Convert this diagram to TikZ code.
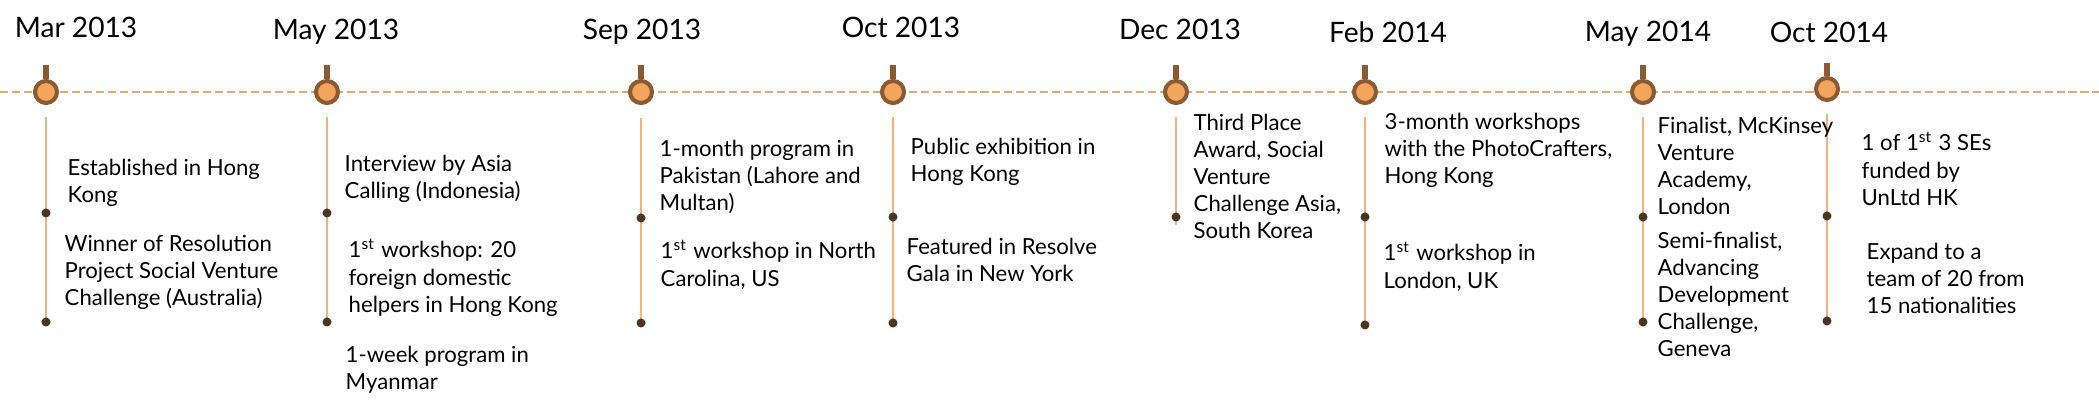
\documentclass[tikz,border=0pt]{standalone}
\usepackage{fontspec}
\setmainfont{Lato}
\usetikzlibrary{positioning}
\definecolor{DashOrange}{HTML}{E9A66E}
\definecolor{RingBrown}{HTML}{8B5A32}
\definecolor{MarkOrange}{HTML}{F3A65B}
\definecolor{LineOrange}{HTML}{F0B27F}
\definecolor{DotBrown}{HTML}{4B3621}

\begin{document}
\begin{tikzpicture}[x=0.01cm, y=-0.01cm,
    every node/.style={font=\fontsize{6.3}{7.7}\selectfont},
    date/.style={font=\fontsize{8}{9}\selectfont, anchor=base, inner sep=0},
    note/.style={anchor=north west, align=left, inner sep=0},
    marker/.style={circle, draw=RingBrown, fill=MarkOrange, line width=1.15pt, minimum size=0.22cm, inner sep=0},
    dot/.style={circle, fill=DotBrown, minimum size=0.09cm, inner sep=0},
    stemline/.style={RingBrown, line width=1.6pt},
    vline/.style={LineOrange, line width=0.7pt}]
  \useasboundingbox (0,0) rectangle (2099,401);
  % axis
  \coordinate (L) at (0,92);
  \coordinate (R) at (2099,92);
  \draw[DashOrange, line width=0.6pt, dash pattern=on 2.3pt off 1.1pt] (L) -- (R);

  % dates
  \node[date] (d1) at (76,38) {Mar 2013};
  \node[date] (d2) at (336,40) {May 2013};
  \node[date] (d3) at (642,40) {Sep 2013};
  \node[date] (d4) at (901,38) {Oct 2013};
  \node[date] (d5) at (1180,40) {Dec 2013};
  \node[date] (d6) at (1388,43) {Feb 2014};
  \node[date] (d7) at (1648,42) {May 2014};
  \node[date] (d8) at (1829,43) {Oct 2014};

  % stems and markers
  \coordinate (s1) at (46,65);
  \coordinate (s2) at (327,65);
  \coordinate (s3) at (641,65);
  \coordinate (s4) at (893,65);
  \coordinate (s5) at (1176,65);
  \coordinate (s6) at (1365,65);
  \coordinate (s7) at (1643,65);
  \coordinate (s8) at (1827,63);
  \node[marker] (m1) at (46,92) {};
  \node[marker] (m2) at (327,92) {};
  \node[marker] (m3) at (641,92) {};
  \node[marker] (m4) at (893,92) {};
  \node[marker] (m5) at (1176,92) {};
  \node[marker] (m6) at (1365,92) {};
  \node[marker] (m7) at (1643,92) {};
  \node[marker] (m8) at (1827,89) {};
  \draw[stemline] (s1) -- (m1.north);
  \draw[stemline] (s2) -- (m2.north);
  \draw[stemline] (s3) -- (m3.north);
  \draw[stemline] (s4) -- (m4.north);
  \draw[stemline] (s5) -- (m5.north);
  \draw[stemline] (s6) -- (m6.north);
  \draw[stemline] (s7) -- (m7.north);
  \draw[stemline] (s8) -- (m8.north);

  % event lines
  \coordinate (t1) at (46,117);
  \coordinate (t2) at (327,117);
  \coordinate (t3) at (641,118);
  \coordinate (t4) at (893,117);
  \coordinate (t5) at (1176,117);
  \coordinate (e5) at (1176,225);
  \coordinate (t6) at (1365,117);
  \coordinate (t7) at (1643,117);
  \coordinate (t8) at (1827,114);
  \draw[vline] (t1) -- (46,322);
  \draw[vline] (t2) -- (327,322);
  \draw[vline] (t3) -- (641,323);
  \draw[vline] (t4) -- (893,323);
  \draw[vline] (t5) -- (e5);
  \draw[vline] (t6) -- (1365,325);
  \draw[vline] (t7) -- (1643,322);
  \draw[vline] (t8) -- (1827,321);
  \node[dot] (a1) at (46,213) {};
  \node[dot] (b1) at (46,322) {};
  \node[dot] (a2) at (327,213) {};
  \node[dot] (b2) at (327,322) {};
  \node[dot] (a3) at (641,218) {};
  \node[dot] (b3) at (641,323) {};
  \node[dot] (a4) at (893,217) {};
  \node[dot] (b4) at (893,323) {};
  \node[dot] (a5) at (1176,217) {};
  \node[dot] (a6) at (1365,217) {};
  \node[dot] (b6) at (1365,325) {};
  \node[dot] (a7) at (1643,217) {};
  \node[dot] (b7) at (1643,322) {};
  \node[dot] (a8) at (1827,216) {};
  \node[dot] (b8) at (1827,321) {};

  % notes
  \node[note] (n1a) at (67,158) {Established in Hong\\Kong};
  \node[note] (n1b) at (64,234) {Winner of Resolution\\Project Social Venture\\Challenge (Australia)};
  \node[note] (n2a) at (344,154) {Interview by Asia\\Calling (Indonesia)};
  \node[note] (n2b) at (348,238) {1\textsuperscript{st} workshop: 20\\foreign domestic\\helpers in Hong Kong};
  \node[note] (n2c) at (345,345) {1-week program in\\Myanmar};
  \node[note] (n3a) at (659,139) {1-month program in\\Pakistan (Lahore and\\Multan)};
  \node[note] (n3b) at (660,239) {1\textsuperscript{st} workshop in North\\Carolina, US};
  \node[note] (n4a) at (910,137) {Public exhibition in\\Hong Kong};
  \node[note] (n4b) at (906,237) {Featured in Resolve\\Gala in New York};
  \node[note] (n5a) at (1193,113) {Third Place\\Award, Social\\Venture\\Challenge Asia,\\South Korea};
  \node[note] (n6a) at (1384,112) {3-month workshops\\with the PhotoCrafters,\\Hong Kong};
  \node[note] (n6b) at (1383,241) {1\textsuperscript{st} workshop in\\London, UK};
  \node[note] (n7a) at (1657,116) {Finalist, McKinsey\\Venture\\Academy,\\London};
  \node[note] (n7b) at (1657,231) {Semi-finalist,\\Advancing\\Development\\Challenge,\\Geneva};
  \node[note] (n8a) at (1861,131) {1 of 1\textsuperscript{st} 3 SEs\\funded by\\UnLtd HK};
  \node[note] (n8b) at (1866,242) {Expand to a\\team of 20 from\\15 nationalities};
\end{tikzpicture}
\end{document}
